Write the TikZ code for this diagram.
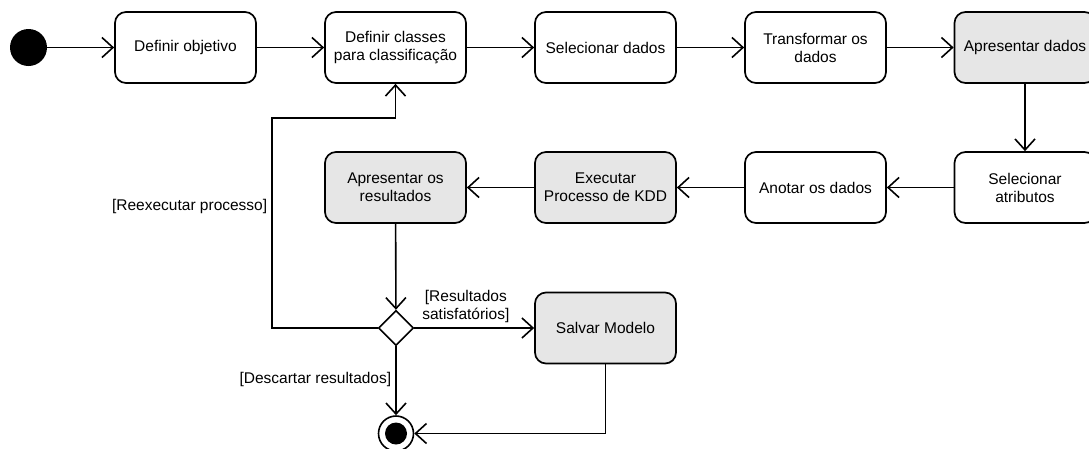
\documentclass[tikz,border=0pt]{standalone}
\usepackage{fontspec}
\setmainfont{Liberation Sans}
\usetikzlibrary{arrows.meta,shapes.geometric}
\definecolor{boxgray}{HTML}{E6E6E6}
\tikzset{
  every node/.style={font=\fontsize{15.5}{18}\selectfont},
  act/.style={draw, line width=1.7pt, rounded corners=11pt, minimum width=141pt,
    minimum height=71pt, align=center, inner sep=2pt},
  gact/.style={act, fill=boxgray},
  arr/.style={line width=1.6pt, -{Straight Barb[length=11pt,width=20pt,line width=1.6pt]}},
  guard/.style={inner sep=4pt, align=center},
  decision/.style={draw, line width=1.6pt, diamond, minimum width=35pt, minimum height=35pt, inner sep=0pt},
}
\begin{document}
\begin{tikzpicture}[x=1pt, y=-1pt]
\useasboundingbox (0,0) rectangle (1089,448);

% initial and final states
\node[circle, fill=black, minimum size=37pt, inner sep=0pt] (start) at (28.5,47.5) {};
\node[circle, draw, line width=1.6pt, minimum size=35pt, inner sep=0pt] (finish) at (396,433.5) {};
\node[circle, fill=black, minimum size=22pt, inner sep=0pt] (finishdot) at (396,433.5) {};

% activities, top row
\node[act]  (n1) at (185.5,47.5) {Definir objetivo};
\node[act]  (n2) at (395.5,47.5) {Definir classes\\para classificação};
\node[act]  (n3) at (605.5,47.5) {Selecionar dados};
\node[act]  (n4) at (815.5,47.5) {Transformar os\\dados};
\node[gact] (n5) at (1025,47.5) {Apresentar dados};

% activities, middle row
\node[act]  (n6) at (1025,187.5) {Selecionar\\atributos};
\node[act]  (n7) at (815.5,187.5) {Anotar os dados};
\node[gact] (n8) at (605.5,187.5) {Executar\\Processo de KDD};
\node[gact] (n9) at (395.5,187.5) {Apresentar os\\resultados};

% decision and save
\node[decision] (dec) at (396,328) {};
\node[gact] (save) at (605.5,328) {Salvar Modelo};

% loop-back corners
\coordinate (loopL) at (272,328);
\coordinate (loopT) at (272,118);
\coordinate (saveC) at (605.5,433.5);

% flow
\draw[arr] (start) -- (n1);
\draw[arr] (n1) -- (n2);
\draw[arr] (n2) -- (n3);
\draw[arr] (n3) -- (n4);
\draw[arr] (n4) -- (n5);
\draw[arr] (n5) -- (n6);
\draw[arr] (n6) -- (n7);
\draw[arr] (n7) -- (n8);
\draw[arr] (n8) -- (n9);
\draw[arr] (n9) -- (dec);
\draw[arr] (dec.east) -- node[guard, above, pos=0.43] {[Resultados\\satisfatórios]} (save.west);
\draw[arr] (dec.south) -- node[guard, left, pos=0.48] {[Descartar resultados]} (finish.north);
\draw[arr] (dec.west) -- (loopL) -- node[guard, left, pos=0.58] {[Reexecutar processo]} (loopT) -| (n2.south);
\draw[arr] (save.south) -- (saveC) -- (finish.east);
\end{tikzpicture}
\end{document}
